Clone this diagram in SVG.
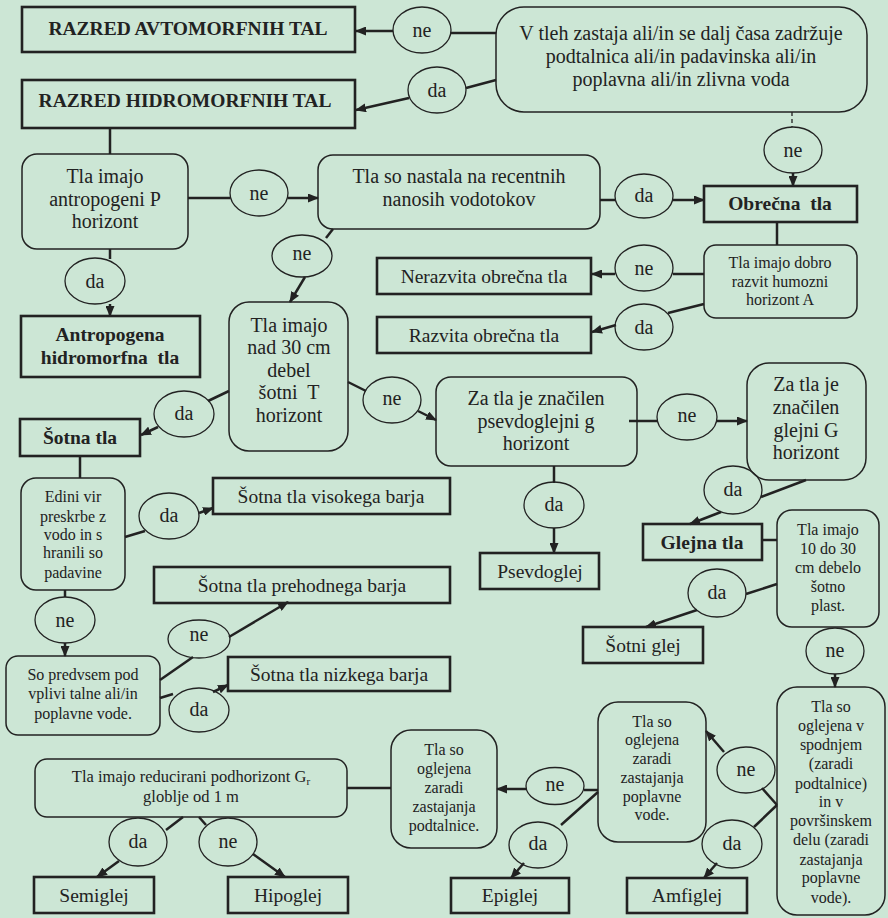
<svg xmlns="http://www.w3.org/2000/svg" width="888" height="918" viewBox="0 0 888 918">
<defs>
<marker id="ah" markerUnits="userSpaceOnUse" markerWidth="11" markerHeight="9" refX="10" refY="4.5" orient="auto"><path d="M0,0 L11,4.5 L0,9 Z" fill="#222"/></marker>
<style>
.t{font-family:'Liberation Serif','DejaVu Serif',serif;fill:#222;text-anchor:middle;white-space:pre}
.b{font-weight:bold}
.s20{font-size:20px}.s19{font-size:19.5px}.s16{font-size:16px}
.rb{fill:none;stroke:#222;stroke-width:1.5}
.tb{fill:none;stroke:#222;stroke-width:2.6}
.el{fill:none;stroke:#222;stroke-width:1.3}
.c line{stroke:#222;stroke-width:2.5}
.c line.a{marker-end:url(#ah)}
.c line.d{stroke-width:1.3;stroke-dasharray:4 3}
</style>
</defs>
<rect width="888" height="918" fill="#cce6d5"/>
<g class="c">
<line x1="451" y1="33" x2="496" y2="33"/>
<line class="a" x1="393" y1="31" x2="356" y2="31"/>
<line x1="466" y1="88" x2="496" y2="80"/>
<line class="a" x1="409" y1="98" x2="356" y2="110"/>
<line class="d" x1="792" y1="112" x2="792" y2="127"/>
<line class="a" x1="793" y1="173" x2="793" y2="186"/>
<line x1="777" y1="222" x2="777" y2="245"/>
<line x1="704" y1="274" x2="673" y2="274"/>
<line class="a" x1="615" y1="274" x2="592" y2="274"/>
<line x1="704" y1="304" x2="668" y2="313"/>
<line class="a" x1="616" y1="325" x2="592" y2="332"/>
<line x1="110" y1="128" x2="110" y2="154"/>
<line x1="188" y1="198" x2="230" y2="198"/>
<line class="a" x1="288" y1="198" x2="318" y2="198"/>
<line x1="600" y1="200" x2="615" y2="200"/>
<line class="a" x1="673" y1="200" x2="704" y2="200"/>
<line x1="110" y1="249" x2="110" y2="259"/>
<line class="a" x1="110" y1="304" x2="110" y2="316"/>
<line x1="333" y1="229" x2="326" y2="238"/>
<line class="a" x1="305" y1="277" x2="290" y2="302"/>
<line x1="229" y1="391" x2="208" y2="401"/>
<line class="a" x1="158" y1="427" x2="141" y2="435"/>
<line x1="348" y1="382" x2="366" y2="391"/>
<line class="a" x1="418" y1="411" x2="436" y2="420"/>
<line x1="629" y1="421" x2="657" y2="421"/>
<line class="a" x1="717" y1="421" x2="747" y2="421"/>
<line x1="806" y1="480" x2="761" y2="497"/>
<line class="a" x1="721" y1="512" x2="690" y2="524"/>
<line x1="554" y1="466" x2="554" y2="483"/>
<line class="a" x1="554" y1="528" x2="554" y2="553"/>
<line x1="762" y1="540" x2="777" y2="540"/>
<line x1="777" y1="584" x2="746" y2="594"/>
<line class="a" x1="697" y1="610" x2="646" y2="627"/>
<line class="a" x1="835" y1="674" x2="835" y2="687"/>
<line x1="777" y1="805" x2="762" y2="788"/>
<line class="a" x1="724" y1="752" x2="706" y2="731"/>
<line x1="777" y1="805" x2="754" y2="827"/>
<line class="a" x1="717" y1="863" x2="704" y2="878"/>
<line x1="598" y1="790" x2="584" y2="790"/>
<line class="a" x1="526" y1="789" x2="497" y2="789"/>
<line x1="598" y1="792" x2="561" y2="825"/>
<line class="a" x1="524" y1="863" x2="511" y2="878"/>
<line x1="347" y1="788" x2="391" y2="788"/>
<line x1="183" y1="817" x2="166" y2="830"/>
<line x1="199" y1="817" x2="206" y2="825"/>
<line class="a" x1="119" y1="861" x2="97" y2="877"/>
<line class="a" x1="253" y1="854" x2="285" y2="877"/>
<line x1="80" y1="456" x2="80" y2="478"/>
<line x1="125" y1="537" x2="145" y2="531"/>
<line class="a" x1="199" y1="513" x2="213" y2="508"/>
<line x1="65" y1="590" x2="65" y2="597"/>
<line class="a" x1="65" y1="643" x2="65" y2="656"/>
<line x1="160" y1="680" x2="193" y2="657"/>
<line class="a" x1="229" y1="637" x2="288" y2="602"/>
<line x1="160" y1="698" x2="173" y2="694"/>
<line class="a" x1="213" y1="692" x2="228" y2="685"/>
</g>

<g id="n_avto"><rect class="tb" x="22" y="7" width="333" height="45"/><text class="t b s19" x="188" y="35">RAZRED AVTOMORFNIH TAL</text></g>
<g id="n_hidro"><rect class="tb" x="22" y="80" width="333" height="48"/><text class="t b s19" x="185" y="107">RAZRED HIDROMORFNIH TAL</text></g>
<g id="e_ne1"><ellipse class="el" cx="422" cy="30" rx="29" ry="23"/><text class="t s20" x="422" y="37">ne</text></g>
<g id="e_da1"><ellipse class="el" cx="437" cy="90" rx="29" ry="23"/><text class="t s20" x="437" y="97">da</text></g>
<g id="n_vtleh"><rect class="rb" x="496" y="7" width="371" height="105" rx="28"/>
<text class="t s20" x="681" y="40">V tleh zastaja ali/in se dalj časa zadržuje</text>
<text class="t s20" x="681" y="63">podtalnica ali/in padavinska ali/in</text>
<text class="t s20" x="681" y="86">poplavna ali/in zlivna voda</text></g>
<g id="e_ne2"><ellipse class="el" cx="793" cy="150" rx="29" ry="23"/><text class="t s20" x="793" y="157">ne</text></g>
<g id="n_obrecna"><rect class="tb" x="704" y="186" width="153" height="36"/><text class="t b s19" x="780" y="210">Obrečna  tla</text></g>
<g id="n_humozni"><rect class="rb" x="704" y="245" width="153" height="73" rx="12"/>
<text class="t s16" x="780" y="268">Tla imajo dobro</text>
<text class="t s16" x="780" y="287">razvit humozni</text>
<text class="t s16" x="780" y="305">horizont A</text></g>
<g id="e_ne3"><ellipse class="el" cx="644" cy="268" rx="29" ry="23"/><text class="t s20" x="644" y="275">ne</text></g>
<g id="n_nerazvita"><rect class="tb" x="377" y="258" width="214" height="36"/><text class="t s19" x="484" y="283">Nerazvita obrečna tla</text></g>
<g id="e_da3"><ellipse class="el" cx="644" cy="327" rx="29" ry="23"/><text class="t s20" x="644" y="334">da</text></g>
<g id="n_razvita"><rect class="tb" x="377" y="317" width="214" height="36"/><text class="t s19" x="484" y="342">Razvita obrečna tla</text></g>
<g id="n_antropo_q"><rect class="rb" x="22" y="154" width="166" height="95" rx="15"/>
<text class="t s20" x="105" y="183">Tla imajo</text>
<text class="t s20" x="105" y="206">antropogeni P</text>
<text class="t s20" x="105" y="228">horizont</text></g>
<g id="e_ne4"><ellipse class="el" cx="259" cy="193" rx="29" ry="23"/><text class="t s20" x="259" y="200">ne</text></g>
<g id="n_nastala"><rect class="rb" x="318" y="155" width="282" height="74" rx="15"/>
<text class="t s20" x="459" y="183">Tla so nastala na recentnih</text>
<text class="t s20" x="459" y="206">nanosih vodotokov</text></g>
<g id="e_da4"><ellipse class="el" cx="644" cy="196" rx="29" ry="22"/><text class="t s20" x="644" y="202">da</text></g>
<g id="e_da5"><ellipse class="el" cx="95" cy="281" rx="30" ry="23"/><text class="t s20" x="95" y="288">da</text></g>
<g id="n_antropogena"><rect class="tb" x="21" y="316" width="179" height="61"/>
<text class="t b s19" x="110" y="341">Antropogena</text>
<text class="t b s19" x="110" y="364">hidromorfna  tla</text></g>
<g id="e_ne5"><ellipse class="el" cx="302" cy="256" rx="30" ry="21"/><text class="t s20" x="302" y="260">ne</text></g>
<g id="n_nad30"><rect class="rb" x="229" y="302" width="119" height="149" rx="20"/>
<text class="t s20" x="289" y="332">Tla imajo</text>
<text class="t s20" x="289" y="354">nad 30 cm</text>
<text class="t s20" x="289" y="377">debel</text>
<text class="t s20" x="289" y="399">šotni  T</text>
<text class="t s20" x="289" y="422">horizont</text></g>
<g id="e_da6"><ellipse class="el" cx="184" cy="414" rx="30" ry="23"/><text class="t s20" x="184" y="420">da</text></g>
<g id="e_ne6"><ellipse class="el" cx="392" cy="400" rx="29" ry="23"/><text class="t s20" x="392" y="405">ne</text></g>
<g id="n_sotna"><rect class="tb" x="20" y="419" width="120" height="37"/><text class="t b s19" x="80" y="444">Šotna tla</text></g>
<g id="n_psevdo_q"><rect class="rb" x="436" y="377" width="201" height="89" rx="15"/>
<text class="t s20" x="536" y="405">Za tla je značilen</text>
<text class="t s20" x="536" y="428">psevdoglejni g</text>
<text class="t s20" x="536" y="450">horizont</text></g>
<g id="e_ne7"><ellipse class="el" cx="687" cy="417" rx="30" ry="23"/><text class="t s20" x="687" y="422">ne</text></g>
<g id="n_glejni_q"><rect class="rb" x="747" y="363" width="119" height="117" rx="22"/>
<text class="t s20" x="806" y="391">Za tla je</text>
<text class="t s20" x="806" y="414">značilen</text>
<text class="t s20" x="806" y="437">glejni G</text>
<text class="t s20" x="806" y="459">horizont</text></g>
<g id="e_da7"><ellipse class="el" cx="733" cy="490" rx="29" ry="24"/><text class="t s20" x="733" y="496">da</text></g>
<g id="e_da8"><ellipse class="el" cx="554" cy="505" rx="30" ry="23"/><text class="t s20" x="554" y="511">da</text></g>
<g id="n_psevdoglej"><rect class="tb" x="480" y="553" width="119" height="36"/><text class="t s19" x="540" y="578">Psevdoglej</text></g>
<g id="n_glejna"><rect class="tb" x="643" y="524" width="119" height="36"/><text class="t b s19" x="702" y="549">Glejna tla</text></g>
<g id="n_10do30"><rect class="rb" x="777" y="510" width="102" height="117" rx="15"/>
<text class="t s16" x="828" y="535">Tla imajo</text>
<text class="t s16" x="828" y="554">10 do 30</text>
<text class="t s16" x="828" y="573">cm debelo</text>
<text class="t s16" x="828" y="592">šotno</text>
<text class="t s16" x="828" y="611">plast.</text></g>
<g id="e_da9"><ellipse class="el" cx="717" cy="593" rx="29" ry="24"/><text class="t s20" x="717" y="599">da</text></g>
<g id="n_sotniglej"><rect class="tb" x="583" y="627" width="120" height="36"/><text class="t s19" x="643" y="652">Šotni glej</text></g>
<g id="e_ne9"><ellipse class="el" cx="835" cy="651" rx="29" ry="23"/><text class="t s20" x="835" y="657">ne</text></g>
<g id="n_spodnjem"><rect class="rb" x="777" y="687" width="108" height="228" rx="20"/>
<text class="t s16" x="831" y="712">Tla so</text>
<text class="t s16" x="831" y="731">oglejena v</text>
<text class="t s16" x="831" y="750">spodnjem</text>
<text class="t s16" x="831" y="769">(zaradi</text>
<text class="t s16" x="831" y="789">podtalnice)</text>
<text class="t s16" x="831" y="807">in v</text>
<text class="t s16" x="831" y="826">površinskem</text>
<text class="t s16" x="831" y="845">delu (zaradi</text>
<text class="t s16" x="831" y="865">zastajanja</text>
<text class="t s16" x="831" y="883">poplavne</text>
<text class="t s16" x="831" y="903">vode).</text></g>
<g id="e_ne10"><ellipse class="el" cx="746" cy="770" rx="29" ry="23"/><text class="t s20" x="746" y="776">ne</text></g>
<g id="e_da10"><ellipse class="el" cx="732" cy="844" rx="30" ry="24"/><text class="t s20" x="732" y="850">da</text></g>
<g id="n_amfiglej"><rect class="tb" x="627" y="878" width="120" height="35"/><text class="t s19" x="687" y="902">Amfiglej</text></g>
<g id="n_poplavne"><rect class="rb" x="598" y="702" width="108" height="140" rx="20"/>
<text class="t s16" x="652" y="727">Tla so</text>
<text class="t s16" x="652" y="745">oglejena</text>
<text class="t s16" x="652" y="764">zaradi</text>
<text class="t s16" x="652" y="783">zastajanja</text>
<text class="t s16" x="652" y="802">poplavne</text>
<text class="t s16" x="652" y="820">vode.</text></g>
<g id="e_ne11"><ellipse class="el" cx="555" cy="786" rx="29" ry="18.5"/><text class="t s20" x="555" y="791">ne</text></g>
<g id="e_da11"><ellipse class="el" cx="538" cy="845" rx="29" ry="23"/><text class="t s20" x="538" y="850">da</text></g>
<g id="n_epiglej"><rect class="tb" x="451" y="878" width="118" height="35"/><text class="t s19" x="510" y="902">Epiglej</text></g>
<g id="n_podtalnice"><rect class="rb" x="391" y="730" width="106" height="118" rx="20"/>
<text class="t s16" x="444" y="755">Tla so</text>
<text class="t s16" x="444" y="774">oglejena</text>
<text class="t s16" x="444" y="793">zaradi</text>
<text class="t s16" x="444" y="812">zastajanja</text>
<text class="t s16" x="444" y="831">podtalnice.</text></g>
<g id="n_reduc"><rect class="rb" x="35" y="759" width="312" height="58" rx="12"/>
<text class="t" style="font-size:16.5px" x="191" y="782">Tla imajo reducirani podhorizont G<tspan dy="3" style="font-size:11px">r</tspan></text>
<text class="t" style="font-size:16.5px" x="191" y="802">globlje od 1 m</text></g>
<g id="e_da12"><ellipse class="el" cx="138" cy="842" rx="29" ry="24"/><text class="t s20" x="138" y="848">da</text></g>
<g id="e_ne12"><ellipse class="el" cx="228" cy="842" rx="29" ry="24"/><text class="t s20" x="228" y="848">ne</text></g>
<g id="n_semiglej"><rect class="tb" x="34" y="877" width="120" height="36"/><text class="t s19" x="94" y="902">Semiglej</text></g>
<g id="n_hipoglej"><rect class="tb" x="228" y="877" width="120" height="36"/><text class="t s19" x="288" y="902">Hipoglej</text></g>
<g id="n_edini"><rect class="rb" x="21" y="478" width="104" height="112" rx="15"/>
<text class="t s16" x="73" y="502">Edini vir</text>
<text class="t s16" x="73" y="522">preskrbe z</text>
<text class="t s16" x="73" y="540">vodo in s</text>
<text class="t s16" x="73" y="558">hranili so</text>
<text class="t s16" x="73" y="578">padavine</text></g>
<g id="e_da13"><ellipse class="el" cx="169" cy="516" rx="30" ry="23"/><text class="t s20" x="169" y="522">da</text></g>
<g id="n_visokega"><rect class="tb" x="213" y="478" width="237" height="36"/><text class="t s19" x="331" y="503">Šotna tla visokega barja</text></g>
<g id="e_ne13"><ellipse class="el" cx="65" cy="620" rx="30" ry="23"/><text class="t s20" x="65" y="627">ne</text></g>
<g id="n_sopredvsem"><rect class="rb" x="6" y="656" width="154" height="79" rx="12"/>
<text class="t s16" x="83" y="680">So predvsem pod</text>
<text class="t s16" x="83" y="699">vplivi talne ali/in</text>
<text class="t s16" x="83" y="719">poplavne vode.</text></g>
<g id="e_ne14"><ellipse class="el" cx="199" cy="639" rx="31" ry="19"/><text class="t s20" x="199" y="641">ne</text></g>
<g id="e_da14"><ellipse class="el" cx="199" cy="710" rx="30" ry="22"/><text class="t s20" x="199" y="716">da</text></g>
<g id="n_prehodnega"><rect class="tb" x="154" y="567" width="296" height="36"/><text class="t s19" x="302" y="592">Šotna tla prehodnega barja</text></g>
<g id="n_nizkega"><rect class="tb" x="228" y="657" width="222" height="34"/><text class="t s19" x="339" y="681">Šotna tla nizkega barja</text></g>
</svg>
